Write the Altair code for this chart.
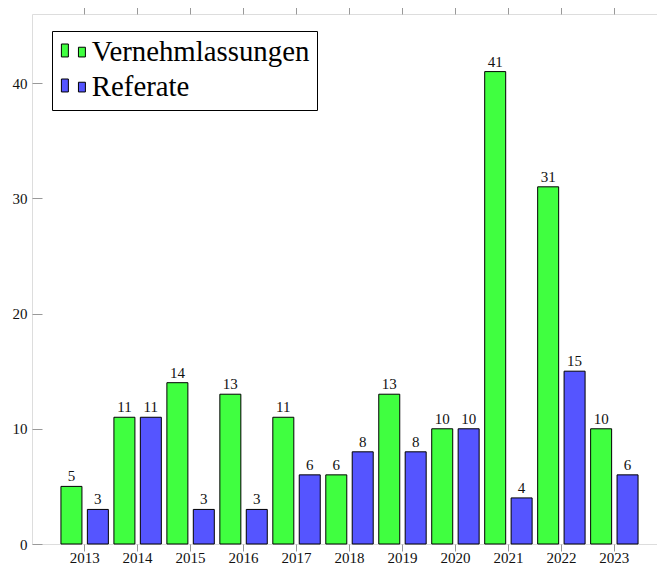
import altair as alt
import pandas as pd

years = ["2013", "2014", "2015", "2016", "2017", "2018", "2019", "2020", "2021", "2022", "2023"]
vernehmlassungen = [5, 11, 14, 13, 11, 6, 13, 10, 41, 31, 10]
referate = [3, 11, 3, 3, 6, 8, 8, 10, 4, 15, 6]
series_names = ["Vernehmlassungen", "Referate"]
series_colors = ["#40ff40", "#5555ff"]
y_ticks = [0, 10, 20, 30, 40]

rows = []
for i, y in enumerate(years):
    rows.append({"year": y, "series": series_names[0], "value": vernehmlassungen[i]})
    rows.append({"year": y, "series": series_names[1], "value": referate[i]})
df = pd.DataFrame(rows)

FONT = "Liberation Serif"
x_scale = alt.Scale(paddingInner=0, paddingOuter=0.494, align=0.5)
y_scale = alt.Scale(domain=[0, 46], nice=False, zero=True)
xoff = alt.XOffset("series:N", sort=series_names,
                   scale=alt.Scale(paddingInner=0.205, paddingOuter=0.105))

legend_symbol = "M-1,-0.7H-0.42V0.38H-1Z M0.42,-0.43H1V0.38H0.42Z"

bars = alt.Chart(df).mark_bar(stroke="black", strokeWidth=1, opacity=1).encode(
    x=alt.X("year:N", sort=years, scale=x_scale, title=None,
            axis=alt.Axis(orient="bottom", domain=False, ticks=True, tickSize=7,
                          tickColor="#999999", labelAngle=0, labelPadding=11,
                          labelBaseline="alphabetic",
                          labelFontSize=15, labelFont=FONT, labelColor="#111111",
                          grid=False)),
    xOffset=xoff,
    y=alt.Y("value:Q", scale=y_scale, title=None,
            axis=alt.Axis(orient="left", values=y_ticks, offset=-10, tickSize=10,
                          tickColor="#999999", domain=False, labelPadding=5,
                          labelFontSize=15, labelFont=FONT, labelColor="#111111",
                          grid=False)),
    color=alt.Color("series:N", sort=series_names,
                    scale=alt.Scale(domain=series_names, range=series_colors),
                    legend=alt.Legend(orient="none", legendX=20, legendY=17,
                                      title=None, symbolType=legend_symbol,
                                      symbolSize=576, symbolStrokeColor="black",
                                      symbolStrokeWidth=1, symbolOpacity=1,
                                      labelFontSize=28.8, labelFont=FONT,
                                      labelColor="black", labelLimit=400,
                                      labelOffset=4, strokeColor="black",
                                      fillColor="white", padding=7,
                                      rowPadding=5)),
)

labels = alt.Chart(df).mark_text(baseline="alphabetic", dy=-5, fontSize=15,
                                 font=FONT, color="#111111").encode(
    x=alt.X("year:N", sort=years, scale=x_scale, axis=None),
    xOffset=xoff,
    y=alt.Y("value:Q", scale=y_scale, axis=None),
    text="value:Q",
)

extra_axes = alt.Chart(df).mark_point(opacity=0).encode(
    x=alt.X("year:N", sort=years, scale=x_scale, title=None,
            axis=alt.Axis(orient="top", labels=False, domain=False, tickSize=10,
                          tickColor="#999999", grid=False)),
    y=alt.Y("value:Q", scale=y_scale, title=None,
            axis=alt.Axis(orient="right", values=y_ticks, labels=False, offset=-10,
                          tickSize=10, tickColor="#999999", domain=False, grid=False)),
)

chart = alt.layer(bars, labels, extra_axes).resolve_axis(
    x="independent", y="independent"
).properties(
    width=635, height=530,
    autosize=alt.AutoSizeParams(type="none"),
    padding={"left": 24, "top": 6, "right": -10, "bottom": 22},
).configure_view(stroke="#222222", strokeWidth=1).configure(font=FONT)

chart.save("out.html", embed_options={"renderer": "svg", "actions": False})
